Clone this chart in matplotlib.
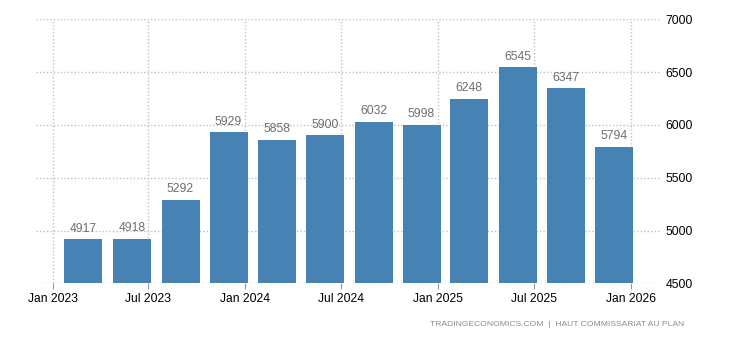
import matplotlib
matplotlib.use('Agg')
import matplotlib.pyplot as plt
import matplotlib.dates as mdates
import pandas as pd

plt.rcParams['font.family'] = ['Liberation Sans', 'DejaVu Sans']

# quarterly values, Q1 2023 .. Q4 2025
quarters = ['2023Q1', '2023Q2', '2023Q3', '2023Q4',
            '2024Q1', '2024Q2', '2024Q3', '2024Q4',
            '2025Q1', '2025Q2', '2025Q3', '2025Q4']
values = [4917, 4918, 5292, 5929, 5858, 5900, 6032, 5998, 6248, 6545, 6347, 5794]
tick_dates = ['2023-01-01', '2023-07-01', '2024-01-01', '2024-07-01',
              '2025-01-01', '2025-07-01', '2026-01-01']
tick_labels = ['Jan 2023', 'Jul 2023', 'Jan 2024', 'Jul 2024',
               'Jan 2025', 'Jul 2025', 'Jan 2026']
y_ticks = [4500, 5000, 5500, 6000, 6500, 7000]

# bars sit at the end of the middle month of each quarter
centers = [(pd.Period(q, 'Q').asfreq('M', 'start') + 1).to_timestamp(how='end').normalize()
           for q in quarters]
x = mdates.date2num(centers)

fig = plt.figure(figsize=(7.3, 3.4), dpi=100)
ax = fig.add_axes([36/730, 1 - 283.3/340, (660 - 36)/730, (283.3 - 19.3)/340])

ax.bar(x, [v - 4500 for v in values], bottom=4500, width=72,
       color='#4682b4', zorder=2)
for xi, v in zip(x, values):
    ax.text(xi, v + 45, str(v), ha='center', va='bottom', fontsize=8.7, color='#6e6e6e')

ax.set_xlim(mdates.date2num(pd.Timestamp('2022-11-30')),
            mdates.date2num(pd.Timestamp('2026-02-25')))
ax.set_ylim(4500, 7000)

ax.set_xticks(mdates.date2num(pd.to_datetime(tick_dates)))
ax.set_xticklabels(tick_labels, fontsize=8.7, color='#000000')
ax.set_yticks(y_ticks)
ax.set_yticklabels([str(t) for t in y_ticks], fontsize=8.7, color='#000000')
ax.yaxis.tick_right()
ax.tick_params(axis='y', length=0, pad=4)
ax.tick_params(axis='x', length=4, width=0.8, color='#999999', pad=3)

ax.grid(True, linestyle=(0, (1, 1.5)), color='#c0c0c0', linewidth=1.0, zorder=0)
ax.set_axisbelow(True)
for s in ax.spines.values():
    s.set_visible(False)

fig.text(684/730, 1 - 325/340, 'TRADINGECONOMICS.COM  |  HAUT COMMISSARIAT AU PLAN',
         ha='right', va='center', fontsize=6.1, color='#8c8c8c')

fig.savefig('out.png', dpi=100)
